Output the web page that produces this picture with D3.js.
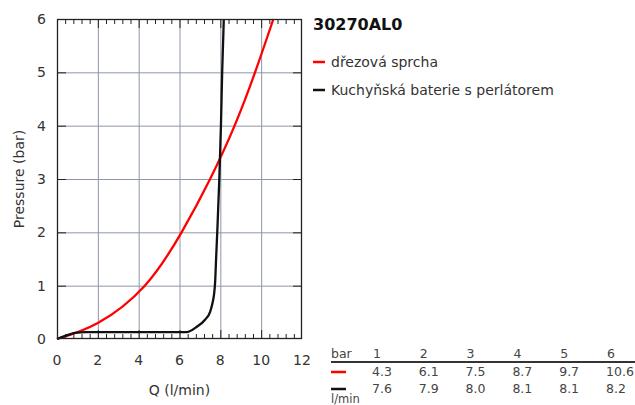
<!DOCTYPE html>
<html>
<head>
<meta charset="utf-8">
<script src="https://cdn.jsdelivr.net/npm/d3@7"></script>
<style>
  body { margin: 0; background: #fff; }
  svg { font-family: "DejaVu Sans", sans-serif; }
</style>
</head>
<body>
<svg id="chart" width="635" height="405"></svg>
<script>
// curve points: [Q (l/min), pressure (bar)]
const redCurve = [[0,0],[2,0.3],[4.3,1],[6.1,2],[7.5,3],[8.7,4],[9.7,5],[10.6,6]];
const blackCurve = [[0,0],[0.4,0.06],[0.9,0.115],[1.4,0.13],[6.35,0.13],[6.85,0.23],[7.25,0.36],[7.5,0.51],[7.63,0.7],[7.7,0.86],[7.75,1.1],[7.79,1.48],[7.86,2.1],[7.95,3],[8.03,4],[8.09,5],[8.17,6]];
const series = [
  {name: "dřezová sprcha", color: "#ff0000", points: redCurve, curve: d3.curveNatural},
  {name: "Kuchyňská baterie s perlátorem", color: "#111111", points: blackCurve, curve: d3.curveMonotoneX}
];
const tableBars = [1, 2, 3, 4, 5, 6];
const tableRed = ["4.3", "6.1", "7.5", "8.7", "9.7", "10.6"];
const tableBlack = ["7.6", "7.9", "8.0", "8.1", "8.1", "8.2"];
const title = "30270AL0";

const svg = d3.select("#chart");
const L = 57, R = 302, T = 19, B = 339;
const x = d3.scaleLinear().domain([0, 12]).range([L, R]);
const y = d3.scaleLinear().domain([0, 6]).range([B, T]);

// grid
const grid = svg.append("g").attr("stroke", "#8c96a8").attr("stroke-width", 1);
grid.selectAll("line.v").data(d3.range(2, 12, 2)).join("line")
  .attr("x1", d => x(d) + 0.5).attr("x2", d => x(d) + 0.5)
  .attr("y1", T).attr("y2", B);
grid.selectAll("line.h").data(d3.range(1, 6)).join("line")
  .attr("y1", d => y(d) + 0.5).attr("y2", d => y(d) + 0.5)
  .attr("x1", L).attr("x2", R);

// inner ticks
const ticks = svg.append("g").attr("stroke", "#222").attr("stroke-width", 1);
const minor = d3.range(0.4, 12, 0.4).filter(v => Math.abs(v / 2 - Math.round(v / 2)) > 0.01);
[B, T].forEach(edge => {
  const dir = edge === B ? -1 : 1;
  ticks.append("g").selectAll("line").data(minor).join("line")
    .attr("x1", d => x(d) + 0.5).attr("x2", d => x(d) + 0.5)
    .attr("y1", edge).attr("y2", edge + dir * 5);
  ticks.append("g").selectAll("line").data(d3.range(2, 12, 2)).join("line")
    .attr("x1", d => x(d) + 0.5).attr("x2", d => x(d) + 0.5)
    .attr("y1", edge).attr("y2", edge + dir * 9);
});
[L, R].forEach(edge => {
  const dir = edge === L ? 1 : -1;
  ticks.append("g").selectAll("line").data(d3.range(1, 6)).join("line")
    .attr("y1", d => y(d) + 0.5).attr("y2", d => y(d) + 0.5)
    .attr("x1", edge).attr("x2", edge + dir * 9);
});

// curves
svg.append("g").selectAll("path").data(series).join("path")
  .attr("d", d => d3.line().x(p => x(p[0])).y(p => y(p[1])).curve(d.curve)(d.points))
  .attr("fill", "none")
  .attr("stroke", d => d.color)
  .attr("stroke-width", 2.3)
  .attr("stroke-linejoin", "round");

// frame
svg.append("rect").attr("x", L + 0.5).attr("y", T + 0.5)
  .attr("width", R - L - 1).attr("height", B - T - 1)
  .attr("fill", "none").attr("stroke", "#222").attr("stroke-width", 1.3);

// axis labels
const tl = svg.append("g").attr("fill", "#333").attr("font-size", 14);
tl.selectAll("text.x").data(d3.range(0, 13, 2)).join("text")
  .attr("x", d => x(d)).attr("y", 365).attr("text-anchor", "middle").text(d => d);
tl.selectAll("text.y").data(d3.range(0, 7)).join("text")
  .attr("x", 46).attr("y", d => y(d) + 5).attr("text-anchor", "end").text(d => d);
tl.append("text").attr("x", (L + R) / 2).attr("y", 395).attr("text-anchor", "middle").text("Q (l/min)");
tl.append("text").attr("transform", `translate(24,${(T + B) / 2}) rotate(-90)`)
  .attr("text-anchor", "middle").text("Pressure (bar)");

// legend
svg.append("text").attr("x", 313).attr("y", 30).attr("font-size", 16).attr("font-weight", "bold")
  .attr("fill", "#111").text(title);
const leg = svg.append("g").selectAll("g").data(series).join("g")
  .attr("transform", (d, i) => `translate(313,${62 + i * 28})`);
leg.append("line").attr("x1", 0).attr("x2", 12).attr("stroke", d => d.color).attr("stroke-width", 2.5);
leg.append("text").attr("x", 18).attr("y", 5).attr("font-size", 14).attr("fill", "#333").text(d => d.name);

// table
const colX = i => 373 + i * 46.8;
const tb = svg.append("g").attr("font-size", 12.5).attr("fill", "#444");
tb.append("text").attr("x", 331).attr("y", 358).text("bar");
tb.selectAll("text.h").data(tableBars).join("text").attr("x", (d, i) => colX(i)).attr("y", 358).text(d => d);
tb.append("line").attr("x1", 331).attr("x2", 635).attr("y1", 362).attr("y2", 362)
  .attr("stroke", "#333").attr("stroke-width", 2.2);
tb.append("line").attr("x1", 331).attr("x2", 346).attr("y1", 372).attr("y2", 372)
  .attr("stroke", "#ff0000").attr("stroke-width", 2.5);
tb.append("line").attr("x1", 331).attr("x2", 346).attr("y1", 389).attr("y2", 389)
  .attr("stroke", "#111").attr("stroke-width", 2.5);
tb.selectAll("text.r").data(tableRed).join("text").attr("x", (d, i) => colX(i) - 1).attr("y", 376).text(d => d);
tb.selectAll("text.b").data(tableBlack).join("text").attr("x", (d, i) => colX(i) - 1).attr("y", 393).text(d => d);
tb.append("text").attr("x", 331).attr("y", 403).attr("font-size", 11.5).text("l/min");
</script>
</body>
</html>
